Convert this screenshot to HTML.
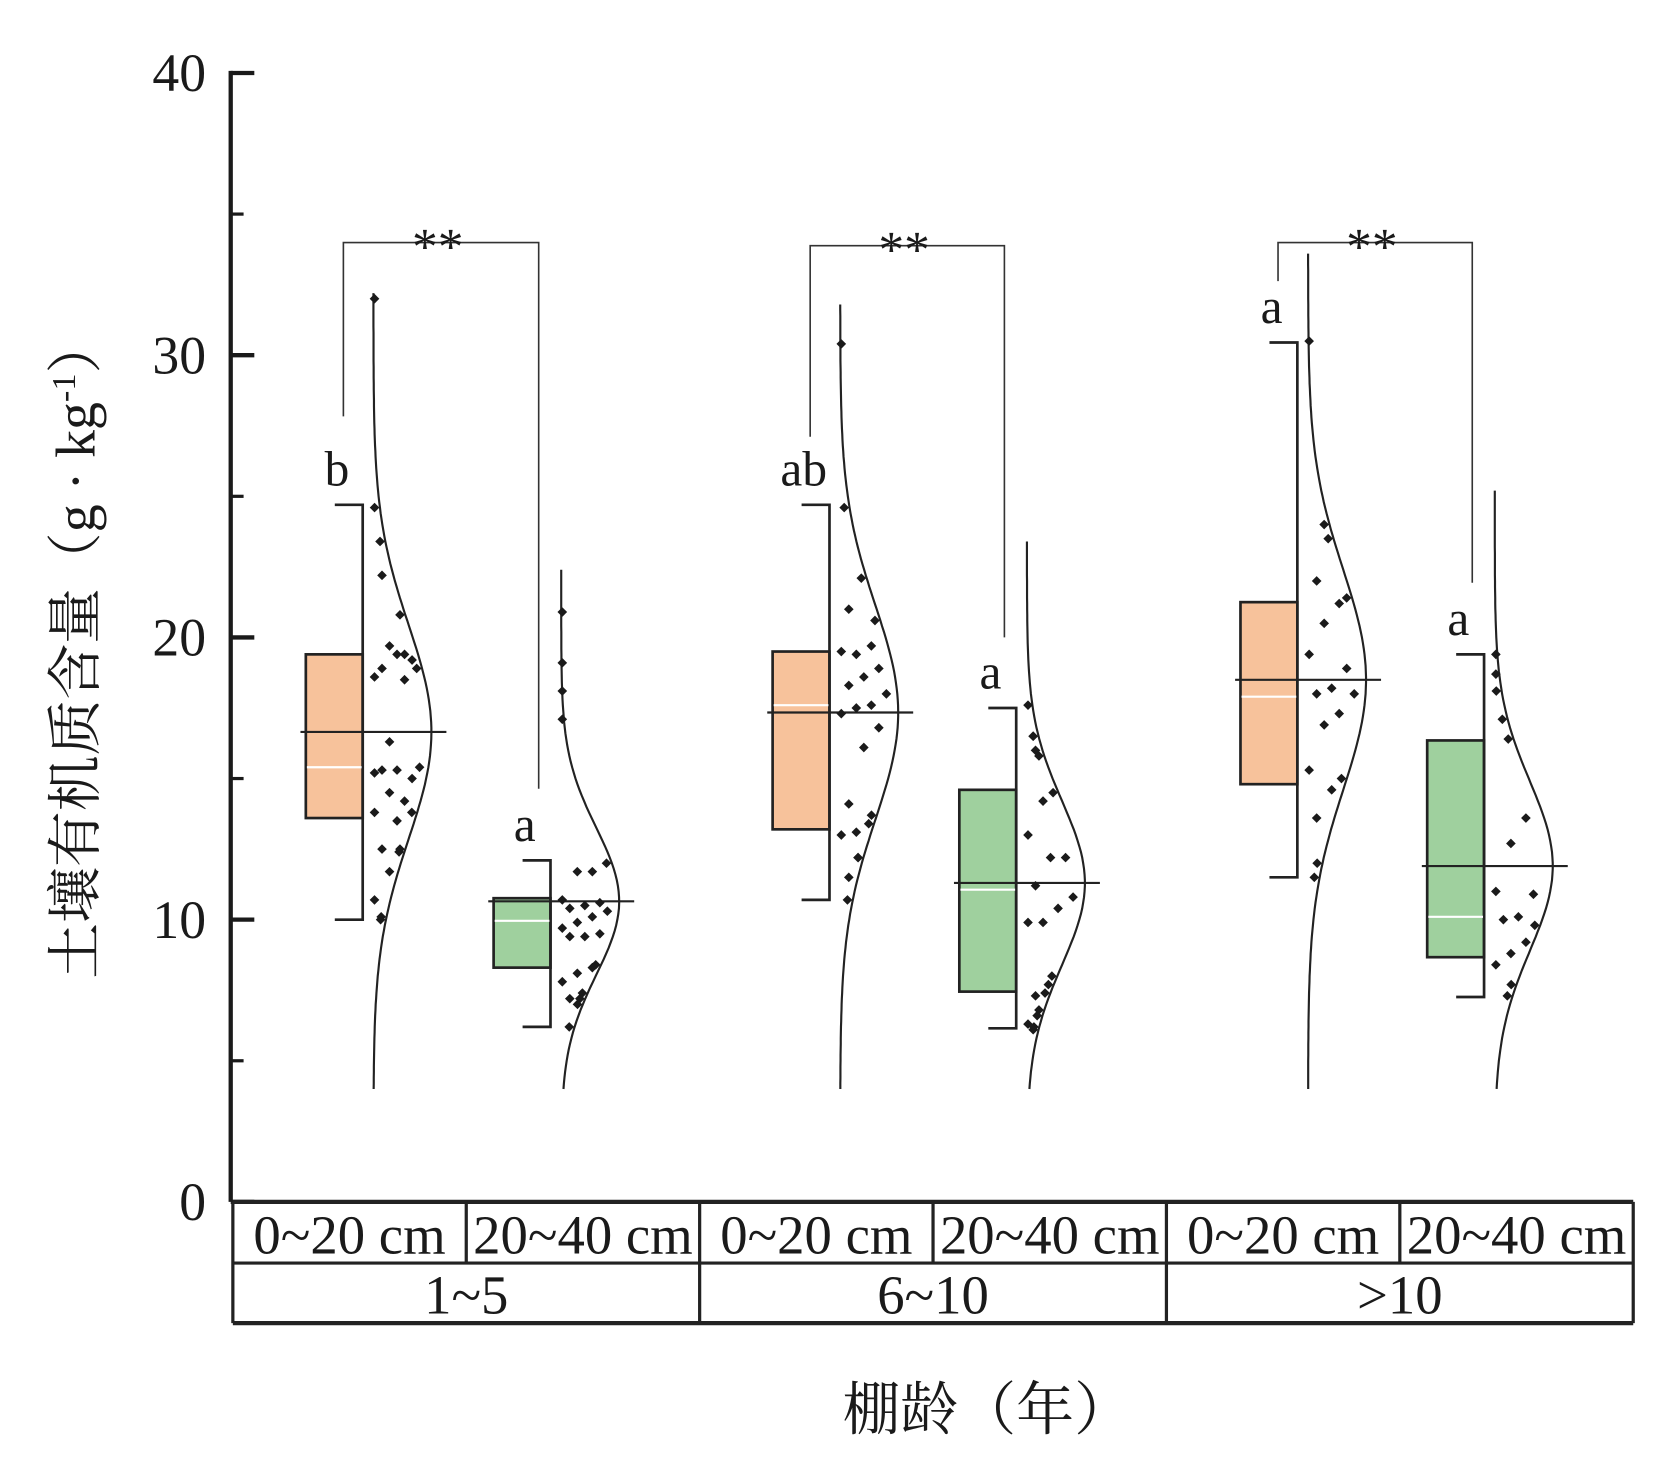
<!DOCTYPE html>
<html><head><meta charset="utf-8"><style>
html,body{margin:0;padding:0;background:#fff;}
svg{display:block;}
text{font-family:"Liberation Serif","Noto Serif CJK SC",serif;fill:#1a1a1a;}
</style></head><body>
<svg id="chart" width="1674" height="1459" viewBox="0 0 1560 1359.6" preserveAspectRatio="none" xmlns="http://www.w3.org/2000/svg">
<g id="axes"></g>
<g id="marks"></g>
<text transform="translate(88,604) rotate(-90)" text-anchor="middle" font-size="52">土壤有机质含量（g · kg<tspan font-size="32" dy="-18">-1</tspan><tspan dy="18">）</tspan></text>
<text x="920" y="1332" text-anchor="middle" font-size="54">棚龄（年）</text>
</svg>
<script>
const yTicks=[0,10,20,30,40];
const minorTicks=[5,15,25,35];
const groups=["1~5","6~10",">10"];
const depths=["0~20 cm","20~40 cm"];
const boxQ1=[13.6,8.3,13.2,7.45,14.8,8.67];
const boxQ3=[19.4,10.76,19.5,14.6,21.25,16.35];
const whiskLo=[10.0,6.2,10.7,6.15,11.5,7.26];
const whiskHi=[24.7,12.1,24.7,17.5,30.45,19.4];
const means=[16.65,10.65,17.34,11.3,18.5,11.9];
const medians=[15.4,9.96,17.6,11.06,17.9,10.1];
const sds=[3.8,2.6,3.8,2.9,3.9,3.0];
const curveTop=[32.3,22.4,31.9,23.4,33.6,25.2];
const letters=["b","a","ab","a","a","a"];
const pts0=[32.0,24.6,23.4,22.2,20.8,19.4,19.7,18.6,19.2,19.4,18.9,18.9,18.5,16.3,15.2,15.0,15.3,15.3,15.4,14.2,14.5,13.8,13.8,13.5,12.5,12.5,12.4,11.7,10.7,10.1,10.0];
const pts1=[20.9,19.1,18.1,17.1,12.0,11.7,11.7,10.7,10.6,10.5,10.4,10.3,10.1,9.9,9.7,9.5,9.4,9.4,8.4,8.3,8.1,7.8,7.4,7.2,7.2,7.0,6.2];
const pts2=[30.4,24.6,22.1,21.0,20.6,19.7,19.4,19.5,18.9,18.6,18.3,18.0,17.6,17.5,17.3,16.8,16.1,14.1,13.7,13.4,13.1,13.0,12.2,12.2,11.5,10.7];
const pts3=[17.6,16.5,16.5,16.0,15.8,14.5,14.2,13.0,12.2,12.2,11.2,10.8,10.4,9.9,9.9,8.0,7.7,7.3,7.4,6.8,6.6,6.3,6.2,6.1];
const pts4=[30.5,24.0,23.5,22.0,21.4,21.2,20.5,19.4,18.9,18.2,18.0,18.0,17.3,16.9,15.3,15.0,14.6,13.6,12.0,11.5];
const pts5=[19.4,18.7,18.1,17.1,16.4,13.6,12.7,11.0,10.9,10.1,10.0,9.8,9.2,8.8,8.4,7.7,7.3];
const sigLabels=["**","**","**"];

const NS="http://www.w3.org/2000/svg";
const Y0=1120, PXU=26.3, AX=215;
function y(v){return Y0-v*PXU;}
function el(tag,attrs,parent){const e=document.createElementNS(NS,tag);for(const k in attrs)e.setAttribute(k,attrs[k]);parent.appendChild(e);return e;}
const axes=document.getElementById('axes'), marks=document.getElementById('marks');
const TL=217,TR=1522,T1=1120,T2=1177,T3=1233;
const slotW=1305/6;
function slotCenter(i){return TL+(i+0.5)*slotW;}
const boxRightPos=[338,513,773,947,1209,1383];
function boxRight(i){return boxRightPos[i];}

let a=el('line',{x1:AX,y1:y(40)-2,x2:AX,y2:Y0,stroke:'#1a1a1a','stroke-width':4},axes);

yTicks.forEach(t=>{
 let l=el('line',{x1:AX,y1:y(t),x2:AX+22,y2:y(t),stroke:'#1a1a1a','stroke-width':4},axes);
 
 let tx=el('text',{x:192,y:y(t)+17,'text-anchor':'end','font-size':50},axes);
 tx.textContent=t;
 
});
minorTicks.forEach(t=>{
 let l=el('line',{x1:AX,y1:y(t),x2:AX+12,y2:y(t),stroke:'#1a1a1a','stroke-width':3},axes);
 
});
[[TL,T1,TR,T1,4],[TL,T2,TR,T2,3],[TL,T3,TR,T3,4],[TL,T1,TL,T3,3],[TR,T1,TR,T3,3]].forEach(p=>{
 let l=el('line',{x1:p[0],y1:p[1],x2:p[2],y2:p[3],stroke:'#222','stroke-width':p[4]},axes);
 
});
for(let i=1;i<6;i++){
 const x=TL+i*slotW;
 let l=el('line',{x1:x,y1:T1,x2:x,y2:(i%2===0?T3:T2),stroke:'#222','stroke-width':3},axes);
 
}
for(let i=0;i<6;i++){
 let tx=el('text',{x:slotCenter(i),y:T2-9,'text-anchor':'middle','font-size':51},axes);
 tx.textContent=depths[i%2];
 
}
groups.forEach((g,gi)=>{
 let tx=el('text',{x:TL+(gi+0.5)*slotW*2,y:T3-9,'text-anchor':'middle','font-size':51},axes);
 tx.textContent=g;
 
});

const allPts=[pts0,pts1,pts2,pts3,pts4,pts5];
for(let i=0;i<6;i++){
 const br=boxRight(i), bl=br-53, base=br+10, amp=54;
 const fill=(i%2===0)?'#f7c29b':'#9fd09e';
 let b=el('rect',{x:bl,y:y(boxQ3[i]),width:53,height:y(boxQ1[i])-y(boxQ3[i]),fill:fill,stroke:'#222','stroke-width':2.5},marks);
 
 let w=el('polyline',{points:`${br-26},${y(whiskHi[i])} ${br},${y(whiskHi[i])} ${br},${y(whiskLo[i])} ${br-26},${y(whiskLo[i])}`,fill:'none',stroke:'#222','stroke-width':2.5},marks);
 
 let md=el('line',{x1:bl+1,y1:y(medians[i]),x2:br-1,y2:y(medians[i]),stroke:'#fff','stroke-width':2},marks);
 
 const cx=v=>base+amp*Math.exp(-Math.pow(v-means[i],2)/(2*sds[i]*sds[i]));
 let d='';
 for(let v=4;v<=curveTop[i]+1e-6;v+=0.2){d+=(d?'L':'M')+cx(v).toFixed(1)+','+y(v).toFixed(1);}
 let c=el('path',{d:d,fill:'none',stroke:'#222','stroke-width':2},marks);
 
 let mn=el('line',{x1:bl-5,y1:y(means[i]),x2:base+amp+14,y2:y(means[i]),stroke:'#222','stroke-width':2},marks);
 
 allPts[i].forEach((v,k)=>{
  let px=base+1+((k*5)%7)*7;
  px=Math.min(px,Math.max(base+1,cx(v)-5));
  const py=y(v);
  let p=el('polygon',{points:`${px},${py-4.5} ${px+4.5},${py} ${px},${py+4.5} ${px-4.5},${py}`,fill:'#1a1a1a'},marks);
  
 });
 let lt=el('text',{x:br-24,y:y(whiskHi[i])-18,'text-anchor':'middle','font-size':46},marks);
 lt.textContent=letters[i];
 
}
const brTop=[226,229,226];
const brLeftEnd=[388,407,262];
const brRightEnd=[735,594,543];
groups.forEach((g,gi)=>{
 const xl=boxRight(gi*2)-18, xr=boxRight(gi*2+1)-11;
 let p=el('polyline',{points:`${xl},${brLeftEnd[gi]} ${xl},${brTop[gi]} ${xr},${brTop[gi]} ${xr},${brRightEnd[gi]}`,fill:'none',stroke:'#333','stroke-width':1.5},marks);
 
 let t=el('text',{x:(xl+xr)/2-3,y:brTop[gi]+20,'text-anchor':'middle','font-size':48},marks);
 t.textContent=sigLabels[gi];
 
});
</script>
</body></html>
